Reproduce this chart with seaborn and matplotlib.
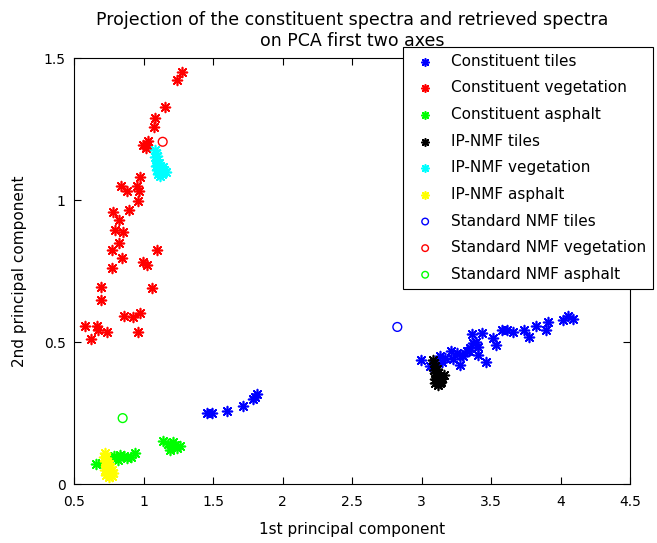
import numpy as np
import pandas as pd
import matplotlib
matplotlib.use("Agg")
import matplotlib.pyplot as plt
import seaborn as sns
from matplotlib.ticker import FuncFormatter

# ---- data ----
tiles_x = [2.996, 3.061, 3.133, 3.169, 3.212, 3.253, 3.277, 3.301, 3.325, 3.349, 3.373, 3.366,
           3.409, 3.404, 3.437, 3.462, 3.517, 3.536, 3.581, 3.613, 3.656, 3.737, 3.776, 3.821,
           3.893, 3.912, 4.020, 4.052, 4.088, 3.150, 3.230, 3.290, 3.340, 3.390,
           1.455, 1.491, 1.599, 1.714, 1.790, 1.814, 1.802]
tiles_y = [0.435, 0.414, 0.451, 0.443, 0.467, 0.461, 0.420, 0.449, 0.467, 0.478, 0.496, 0.528,
           0.484, 0.455, 0.531, 0.428, 0.514, 0.490, 0.543, 0.541, 0.535, 0.543, 0.517, 0.558,
           0.543, 0.569, 0.576, 0.593, 0.581, 0.430, 0.440, 0.455, 0.470, 0.500,
           0.249, 0.251, 0.258, 0.273, 0.299, 0.317, 0.308]

veg_x = [1.277, 1.243, 1.157, 1.083, 1.073, 1.035, 0.999, 1.018, 1.027, 0.977, 0.838, 0.879,
         0.951, 0.970, 0.960, 0.896, 0.783, 0.824, 0.793, 0.850, 0.824, 0.773, 1.099, 0.848,
         0.999, 1.025, 0.773, 0.692, 0.692, 1.063, 0.977, 0.860, 0.924, 0.579, 0.663, 0.675,
         0.740, 0.620, 0.960]
veg_y = [1.450, 1.422, 1.326, 1.287, 1.258, 1.206, 1.192, 1.184, 1.195, 1.080, 1.048, 1.031,
         1.051, 1.031, 0.995, 0.964, 0.956, 0.928, 0.896, 0.887, 0.849, 0.825, 0.825, 0.796,
         0.780, 0.770, 0.761, 0.694, 0.648, 0.689, 0.602, 0.590, 0.587, 0.557, 0.557, 0.543,
         0.535, 0.511, 0.535]

asph_x = [0.658, 0.699, 0.771, 0.831, 0.879, 0.939, 0.819, 0.790, 0.860, 0.910,
          1.142, 1.191, 1.227, 1.263, 1.214, 1.200, 1.240, 1.175]
asph_y = [0.069, 0.073, 0.091, 0.102, 0.091, 0.108, 0.085, 0.098, 0.100, 0.095,
          0.153, 0.120, 0.138, 0.134, 0.149, 0.130, 0.128, 0.140]

ip_tiles_x = [3.08, 3.09, 3.10, 3.09, 3.11, 3.10, 3.12, 3.11, 3.13, 3.10, 3.12, 3.14, 3.11,
              3.13, 3.15, 3.12, 3.14, 3.10, 3.16]
ip_tiles_y = [0.435, 0.425, 0.415, 0.400, 0.405, 0.390, 0.390, 0.375, 0.380, 0.370, 0.365,
              0.370, 0.360, 0.355, 0.375, 0.350, 0.360, 0.355, 0.385]

ip_veg_x = [1.08, 1.09, 1.085, 1.10, 1.095, 1.11, 1.10, 1.12, 1.09, 1.13, 1.11, 1.12, 1.14,
            1.10, 1.13, 1.15, 1.12, 1.105, 1.14, 1.16]
ip_veg_y = [1.175, 1.165, 1.150, 1.155, 1.140, 1.130, 1.125, 1.120, 1.120, 1.110, 1.100,
            1.095, 1.100, 1.105, 1.090, 1.105, 1.085, 1.090, 1.115, 1.100]

ip_asph_x = [0.72, 0.715, 0.73, 0.725, 0.74, 0.73, 0.75, 0.76, 0.74, 0.725, 0.77, 0.75, 0.76,
             0.74, 0.78, 0.75, 0.77, 0.73]
ip_asph_y = [0.110, 0.095, 0.090, 0.080, 0.075, 0.065, 0.070, 0.060, 0.055, 0.050, 0.050,
             0.045, 0.035, 0.035, 0.040, 0.025, 0.028, 0.030]

std_tiles = ([2.826], [0.553])
std_veg = ([1.138], [1.205])
std_asph = ([0.850], [0.232])

x_ticks = [0.5, 1, 1.5, 2, 2.5, 3, 3.5, 4, 4.5]
y_ticks = [0, 0.5, 1, 1.5]

# ---- plotting ----
sns.set_style("ticks", rc={'text.color': 'black', 'axes.labelcolor': 'black',
                           'xtick.color': 'black', 'ytick.color': 'black',
                           'axes.edgecolor': 'black'})
plt.rcParams['font.family'] = ['DejaVu Sans']

fig = plt.figure(figsize=(6.57, 5.43), dpi=100)
ax = fig.add_axes([74/657, 1 - 484/543, (630-74)/657, (484-58)/543])

green = '#00ff00'
star = (8, 2, 0)
series = [
    (tiles_x, tiles_y, 'blue', star, 'Constituent tiles'),
    (veg_x, veg_y, 'red', star, 'Constituent vegetation'),
    (asph_x, asph_y, green, star, 'Constituent asphalt'),
    (ip_tiles_x, ip_tiles_y, 'black', star, 'IP-NMF tiles'),
    (ip_veg_x, ip_veg_y, 'cyan', star, 'IP-NMF vegetation'),
    (ip_asph_x, ip_asph_y, 'yellow', star, 'IP-NMF asphalt'),
]
for xs, ys, col, mk, lab in series:
    df = pd.DataFrame({'x': xs, 'y': ys})
    sns.scatterplot(data=df, x='x', y='y', ax=ax, marker=mk, s=50, color=col,
                    edgecolor=col, linewidth=1.2, label=lab)

circles = [
    (std_tiles, 'blue', 'Standard NMF tiles'),
    (std_veg, 'red', 'Standard NMF vegetation'),
    (std_asph, green, 'Standard NMF asphalt'),
]
for (xs, ys), col, lab in circles:
    df = pd.DataFrame({'x': xs, 'y': ys})
    sns.scatterplot(data=df, x='x', y='y', ax=ax, marker='o', s=40,
                    facecolor='none', edgecolor=col, linewidth=1.0, label=lab)

ax.set_xlim(0.5, 4.5)
ax.set_ylim(0, 1.5)
ax.set_xticks(x_ticks)
ax.set_yticks(y_ticks)
fmt = FuncFormatter(lambda v, p: f"{v:g}")
ax.xaxis.set_major_formatter(fmt)
ax.yaxis.set_major_formatter(fmt)
ax.tick_params(direction='in', top=True, right=True, length=5, width=0.8,
               labelsize=10, colors='black')
ax.tick_params(axis='x', pad=8)
ax.tick_params(axis='y', pad=6)
for sp in ax.spines.values():
    sp.set_visible(True)
    sp.set_color('black')
    sp.set_linewidth(0.8)

ax.set_xlabel('1st principal component', fontsize=11, labelpad=9)
ax.set_ylabel('2nd principal component', fontsize=11, labelpad=12)
ax.set_title('Projection of the constituent spectra and retrieved spectra\non PCA first two axes',
             fontsize=12.5, pad=9, linespacing=1.2, color='black')

leg = ax.legend(loc='upper left', bbox_to_anchor=(403/657, 1 - 47/543),
                bbox_transform=fig.transFigure, fontsize=11, frameon=True,
                fancybox=False, edgecolor='black', framealpha=1, borderaxespad=0,
                labelspacing=0.76, handletextpad=0.7, borderpad=0.45,
                handlelength=2.0, markerscale=0.75)
leg.get_frame().set_linewidth(0.8)

fig.savefig('out.png', dpi=100, facecolor='white')
